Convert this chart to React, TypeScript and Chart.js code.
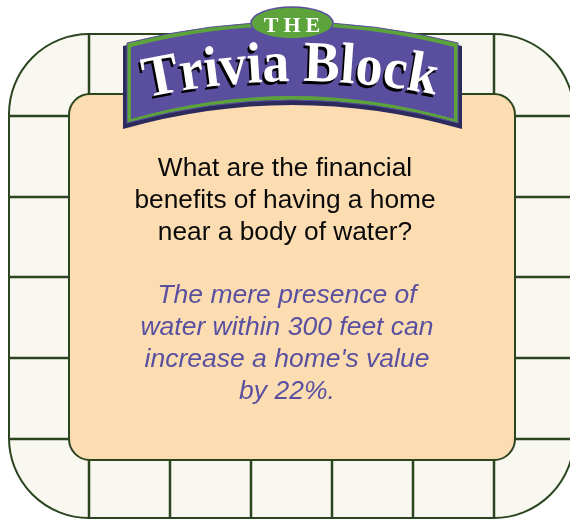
import React, { useEffect, useRef } from "react";
import { Chart, registerables } from "chart.js";

Chart.register(...registerables);

// ---- content ----
const bannerSmall = "THE";
const bannerTitle = "Trivia Block";
const questionLines = [
  "What are the financial",
  "benefits of having a home",
  "near a body of water?",
];
const answerLines = [
  "The mere presence of",
  "water within 300 feet can",
  "increase a home's value",
  "by 22%.",
];
// board square boundaries (in board units, pixel-like coordinate system of the hidden scales)
const boardColumnEdges = [89, 170, 251, 332, 413, 494];
const boardRowEdges = [116, 197, 277, 358, 439];

function rrPath(ctx: CanvasRenderingContext2D, x: number, y: number, w: number, h: number, r: number) {
  ctx.beginPath();
  ctx.moveTo(x + r, y);
  ctx.lineTo(x + w - r, y);
  ctx.arcTo(x + w, y, x + w, y + r, r);
  ctx.lineTo(x + w, y + h - r);
  ctx.arcTo(x + w, y + h, x + w - r, y + h, r);
  ctx.lineTo(x + r, y + h);
  ctx.arcTo(x, y + h, x, y + h - r, r);
  ctx.lineTo(x, y + r);
  ctx.arcTo(x, y, x + r, y, r);
  ctx.closePath();
}

const triviaPlugin = {
  id: "triviaBoard",
  afterDraw(chart: any) {
    const ctx: CanvasRenderingContext2D = chart.ctx;
    const xs = chart.scales.x;
    const ys = chart.scales.y;
    const X = (v: number) => xs.getPixelForValue(v);
    const Y = (v: number) => ys.getPixelForValue(v);
    const line = "#2b4521";

    ctx.save();
    ctx.fillStyle = "#ffffff";
    ctx.fillRect(0, 0, chart.width, chart.height);

    // outer board
    rrPath(ctx, X(9), Y(34), X(574) - X(9), Y(518) - Y(34), 80);
    ctx.fillStyle = "#f9f8f0";
    ctx.fill();

    // squares
    ctx.strokeStyle = line;
    ctx.lineWidth = 2.5;
    for (const c of boardColumnEdges) {
      ctx.beginPath();
      ctx.moveTo(X(c), Y(34));
      ctx.lineTo(X(c), Y(94));
      ctx.moveTo(X(c), Y(460));
      ctx.lineTo(X(c), Y(518));
      ctx.stroke();
    }
    for (const r of boardRowEdges) {
      ctx.beginPath();
      ctx.moveTo(X(9), Y(r));
      ctx.lineTo(X(69), Y(r));
      ctx.moveTo(X(515), Y(r));
      ctx.lineTo(X(574), Y(r));
      ctx.stroke();
    }
    ctx.lineWidth = 2;
    rrPath(ctx, X(9), Y(34), X(574) - X(9), Y(518) - Y(34), 80);
    ctx.stroke();

    // inner panel
    rrPath(ctx, X(69), Y(94), X(515) - X(69), Y(460) - Y(94), 21);
    ctx.fillStyle = "#fcdcb1";
    ctx.fill();
    ctx.lineWidth = 2;
    ctx.strokeStyle = line;
    ctx.stroke();

    // banner
    const banner = (l: number, r: number, t: number, tc: number, b: number, bc: number) => {
      const mx = (l + r) / 2;
      ctx.beginPath();
      ctx.moveTo(X(l), Y(t));
      ctx.quadraticCurveTo(X(mx), Y(2 * tc - t), X(r), Y(t));
      ctx.lineTo(X(r), Y(b));
      ctx.quadraticCurveTo(X(mx), Y(2 * bc - b), X(l), Y(b));
      ctx.closePath();
    };
    banner(123, 462, 46, 25, 129, 105);
    ctx.fillStyle = "#2d2a5e";
    ctx.fill();
    banner(127, 458, 43, 22, 123, 100);
    ctx.fillStyle = "#5da33b";
    ctx.fill();
    ctx.strokeStyle = "#5a4f9f";
    ctx.lineWidth = 1;
    ctx.stroke();
    banner(131, 454, 47, 26, 119, 96);
    ctx.fillStyle = "#5a4f9f";
    ctx.fill();

    // THE ellipse
    ctx.beginPath();
    ctx.ellipse(X(292), Y(23), 41, 16, 0, 0, Math.PI * 2);
    ctx.fillStyle = "#5da33b";
    ctx.fill();
    ctx.strokeStyle = "#5a4f9f";
    ctx.lineWidth = 1.5;
    ctx.stroke();

    ctx.fillStyle = "#ffffff";
    ctx.font = "bold 22px 'Liberation Serif'";
    ctx.textAlign = "center";
    ctx.textBaseline = "alphabetic";
    const smallChars = bannerSmall.split("");
    const gap = 5;
    const sw = smallChars.map((ch) => ctx.measureText(ch).width);
    const sTot = sw.reduce((a, b) => a + b, 0) + gap * (smallChars.length - 1);
    let sx = X(292) - sTot / 2;
    smallChars.forEach((ch, i) => {
      ctx.fillText(ch, sx + sw[i] / 2, Y(32));
      sx += sw[i] + gap;
    });

    // Trivia Block arched title
    ctx.font = "bold 58px 'Liberation Serif'";
    const chars = bannerTitle.split("");
    const widths = chars.map((ch) => ctx.measureText(ch).width);
    const scaleX = 0.93;
    const startX = 146;
    let acc = 0;
    const apexX = 298;
    const k = 0.00072;
    chars.forEach((ch, i) => {
      const cx = startX + (acc + widths[i] / 2) * scaleX;
      acc += widths[i];
      if (ch === " ") return;
      const by = 81 + k * (cx - apexX) * (cx - apexX);
      const ang = Math.atan(2 * k * (cx - apexX));
      for (const pass of [0, 1]) {
        ctx.save();
        ctx.translate(X(cx) + (pass === 0 ? -2 : 0), Y(by) + (pass === 0 ? 3 : 0));
        ctx.rotate(ang);
        ctx.scale(scaleX, 1);
        ctx.fillStyle = pass === 0 ? "#000000" : "#ffffff";
        ctx.fillText(ch, 0, 0);
        ctx.restore();
      }
    });

    // question
    ctx.textAlign = "center";
    ctx.fillStyle = "#0a0a0a";
    ctx.font = "26.3px 'Liberation Sans'";
    questionLines.forEach((t, i) => ctx.fillText(t, X(285), Y(176 + i * 32)));

    // answer
    ctx.fillStyle = "#5a50a0";
    ctx.font = "italic 26.5px 'Liberation Sans'";
    answerLines.forEach((t, i) => ctx.fillText(t, X(287), Y(303 + i * 32)));

    ctx.restore();
  },
};

export default function App() {
  const ref = useRef<HTMLCanvasElement | null>(null);
  useEffect(() => {
    if (!ref.current) return;
    const chart = new Chart(ref.current, {
      type: "scatter",
      data: { datasets: [] },
      options: {
        animation: false,
        responsive: false,
        maintainAspectRatio: false,
        devicePixelRatio: 1,
        layout: { padding: 0 },
        plugins: { legend: { display: false }, tooltip: { enabled: false } },
        scales: {
          x: { type: "linear", min: 0, max: 570, display: false },
          y: { type: "linear", min: 0, max: 519, reverse: true, display: false },
        },
      },
      plugins: [triviaPlugin],
    } as any);
    return () => chart.destroy();
  }, []);
  return (
    <div style={{ position: "absolute", left: 0, top: 0, width: 570, height: 519, background: "#fff" }}>
      <canvas ref={ref} width={570} height={519} style={{ display: "block" }} />
    </div>
  );
}
